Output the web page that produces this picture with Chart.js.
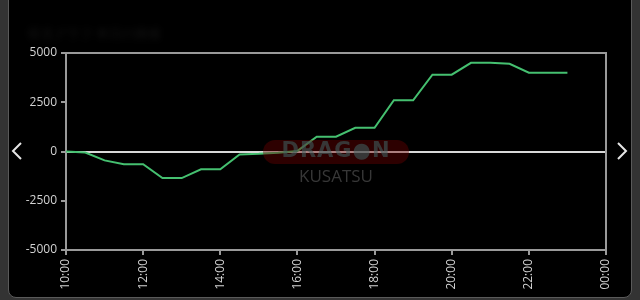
<!DOCTYPE html>
<html>
<head>
<meta charset="utf-8">
<script src="https://cdn.jsdelivr.net/npm/chart.js@4"></script>
<style>
  html, body { margin: 0; padding: 0; }
  body { width: 640px; height: 300px; background: #333; position: relative; overflow: hidden; font-family: "Open Sans", sans-serif; }
  #panel { position: absolute; left: 8px; top: -10px; width: 622px; height: 306px; background: #000; border: 1px solid #5a5a5a; border-radius: 8px; }
  #wrap { position: absolute; left: 0; top: 0; width: 640px; height: 300px; }
  #title { position: absolute; left: 28px; top: 24px; color: #161616; font-size: 13px; filter: blur(3px); }
  .arrow { position: absolute; top: 141px; }
  #mark { position: absolute; left: 263px; top: 139px; width: 146px; height: 46px; opacity: 0.75; pointer-events: none; }
  #pill { position: absolute; left: 0; top: 1px; width: 146px; height: 24px; border-radius: 12px; background: rgba(110, 0, 0, 0.55); }
  #dragon { position: absolute; left: 0; top: -1px; width: 146px; text-align: center; font: bold 21px "DejaVu Sans", sans-serif; color: #4a4a4a; letter-spacing: 1px; }
  #kusatsu { position: absolute; left: 0; top: 25px; width: 146px; text-align: center; font: 17px "Open Sans", sans-serif; color: #4a4a4a; }
</style>
</head>
<body>
<div id="panel"></div>
<div id="title">収支グラフ 本日の推移</div>
<div id="wrap"><canvas id="chart" width="640" height="300"></canvas></div>
<div id="mark">
  <div id="pill"></div>
  <div id="dragon">DRAG&#x25CF;N</div>
  <div id="kusatsu">KUSATSU</div>
</div>
<svg class="arrow" style="left:11px" width="12" height="20"><polyline points="10,2 2,10 10,18" fill="none" stroke="#e6e6e6" stroke-width="2"/></svg>
<svg class="arrow" style="left:616px" width="12" height="20"><polyline points="2,2 10,10 2,18" fill="none" stroke="#e6e6e6" stroke-width="2"/></svg>
<script>
const times = ['10:00','10:30','11:00','11:30','12:00','12:30','13:00','13:30','14:00','14:30','15:00','15:30','16:00',
  '16:30','17:00','17:30','18:00','18:30','19:00','19:30','20:00','20:30','21:00','21:30','22:00','22:30','23:00'];
const balance = [0, -50, -450, -650, -650, -1350, -1350, -900, -900, -150, -120, -60, 30,
  750, 750, 1200, 1200, 2600, 2600, 3900, 3900, 4500, 4500, 4450, 4000, 4000, 4000];
const xTickLabels = ['10:00','12:00','14:00','16:00','18:00','20:00','22:00','00:00'];
const yTicks = [-5000, -2500, 0, 2500, 5000];

function toHours(t) {
  const p = t.split(':');
  return Number(p[0]) + Number(p[1]) / 60;
}

const points = times.map((t, i) => ({ x: toHours(t), y: balance[i] }));

const frame = {
  id: 'frame',
  afterDraw(chart) {
    const a = chart.chartArea;
    const c = chart.ctx;
    c.save();
    c.strokeStyle = '#9a9a9a';
    c.lineWidth = 2;
    c.beginPath();
    c.moveTo(a.left, a.top);
    c.lineTo(a.right, a.top);
    c.lineTo(a.right, a.bottom);
    c.stroke();
    c.restore();
  }
};

new Chart(document.getElementById('chart'), {
  type: 'line',
  data: {
    datasets: [{
      data: points,
      borderColor: '#45c070',
      borderWidth: 2,
      pointRadius: 0,
      tension: 0,
      fill: false
    }]
  },
  options: {
    responsive: false,
    animation: false,
    layout: { padding: { left: 10, right: 34, top: 53, bottom: 0 } },
    plugins: { legend: { display: false }, tooltip: { enabled: false } },
    scales: {
      x: {
        type: 'linear',
        min: 10,
        max: 24,
        afterFit(s) { s.height = 50; },
        afterBuildTicks(s) { s.ticks = xTickLabels.map((l, i) => ({ value: 10 + i * 2 })); },
        ticks: {
          color: '#d2d2d2',
          font: { family: 'Open Sans', size: 12 },
          minRotation: 90,
          maxRotation: 90,
          padding: 4,
          callback: (v, i) => xTickLabels[i]
        },
        grid: { drawOnChartArea: false, color: '#9a9a9a', tickLength: 5, lineWidth: 2 },
        border: { color: '#9a9a9a', width: 2 }
      },
      y: {
        min: -5000,
        max: 5000,
        afterFit(s) { s.width = 56; },
        afterBuildTicks(s) { s.ticks = yTicks.map(v => ({ value: v })); },
        ticks: {
          color: '#d2d2d2',
          font: { family: 'Open Sans', size: 12 },
          padding: 4,
          callback: v => String(v)
        },
        grid: {
          color: c => c.tick && c.tick.value === 0 ? '#d8d8d8' : 'rgba(0,0,0,0)',
          tickColor: '#9a9a9a',
          lineWidth: 2,
          tickLength: 5
        },
        border: { color: '#9a9a9a', width: 2 }
      }
    }
  },
  plugins: [frame]
});
</script>
</body>
</html>
